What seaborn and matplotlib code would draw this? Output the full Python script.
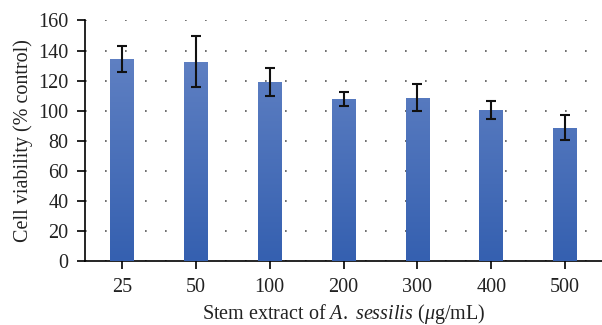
import numpy as np
import pandas as pd
import matplotlib
matplotlib.use("Agg")
import matplotlib.pyplot as plt
import seaborn as sns
from matplotlib.colors import LinearSegmentedColormap

concentrations = ["25", "50", "100", "200", "300", "400", "500"]
viability = [134.5, 132.5, 119.2, 107.8, 108.6, 100.6, 88.6]
errors = [8.7, 17.0, 9.4, 4.5, 9.0, 6.0, 8.2]
y_ticks = [0, 20, 40, 60, 80, 100, 120, 140, 160]

df = pd.DataFrame({"conc": concentrations, "viab": viability})

sns.set_theme(style="white")
plt.rcParams["font.family"] = ["Liberation Serif", "DejaVu Serif"]
plt.rcParams["mathtext.fontset"] = "custom"
plt.rcParams["mathtext.it"] = "Liberation Serif:italic"
plt.rcParams["mathtext.rm"] = "Liberation Serif"

fig = plt.figure(figsize=(6.02, 3.25), dpi=100)
ax = fig.add_axes([0.1412, 0.197, 0.859, 0.740])

sns.barplot(data=df, x="conc", y="viab", ax=ax, color="#4a70bb", width=0.32,
            saturation=1, errorbar=None, zorder=3)

# gradient fill for bars
cmap = LinearSegmentedColormap.from_list("g", ["#3560b0", "#6786c6"])
grad = np.linspace(0, 1, 256).reshape(-1, 1)
for p in ax.patches:
    x0, y0 = p.get_x(), p.get_y()
    w, h = p.get_width(), p.get_height()
    im = ax.imshow(grad, cmap=cmap, aspect="auto", origin="lower",
                   extent=[x0, x0 + w, 0, 160], zorder=3)
    im.set_clip_path(p)
    p.set_facecolor("none")
    p.set_edgecolor("none")

ax.errorbar(range(len(concentrations)), viability, yerr=errors, fmt="none",
            ecolor="#111111", elinewidth=1.5, capsize=3.5, capthick=1.5, zorder=4)

ax.set_xlim(-0.5, len(concentrations) - 0.5)
ax.set_ylim(0, 160)
ax.set_yticks(y_ticks)
ax.yaxis.grid(True, linestyle=(0, (1, 11)), color="#555555", linewidth=1.2)
ax.set_axisbelow(True)

for s in ["top", "right"]:
    ax.spines[s].set_visible(False)
for s in ["left", "bottom"]:
    ax.spines[s].set_color("black")
    ax.spines[s].set_linewidth(1.2)

ax.tick_params(axis="both", which="major", direction="out", length=6, width=1.2,
               color="black", labelsize=14.5, labelcolor="#222222",
               bottom=True, left=True)
ax.tick_params(axis="x", pad=6)
ax.tick_params(axis="y", pad=6)

ax.set_ylabel("Cell viability (% control)", fontsize=14.5, color="#222222", labelpad=4)
ax.set_xlabel(r"Stem extract of $\mathit{A.}$ $\mathit{sessilis}$ ($\mathit{\mu}$g/mL)",
              fontsize=14.5, color="#222222", labelpad=4)

fig.savefig("out.png", dpi=100)
